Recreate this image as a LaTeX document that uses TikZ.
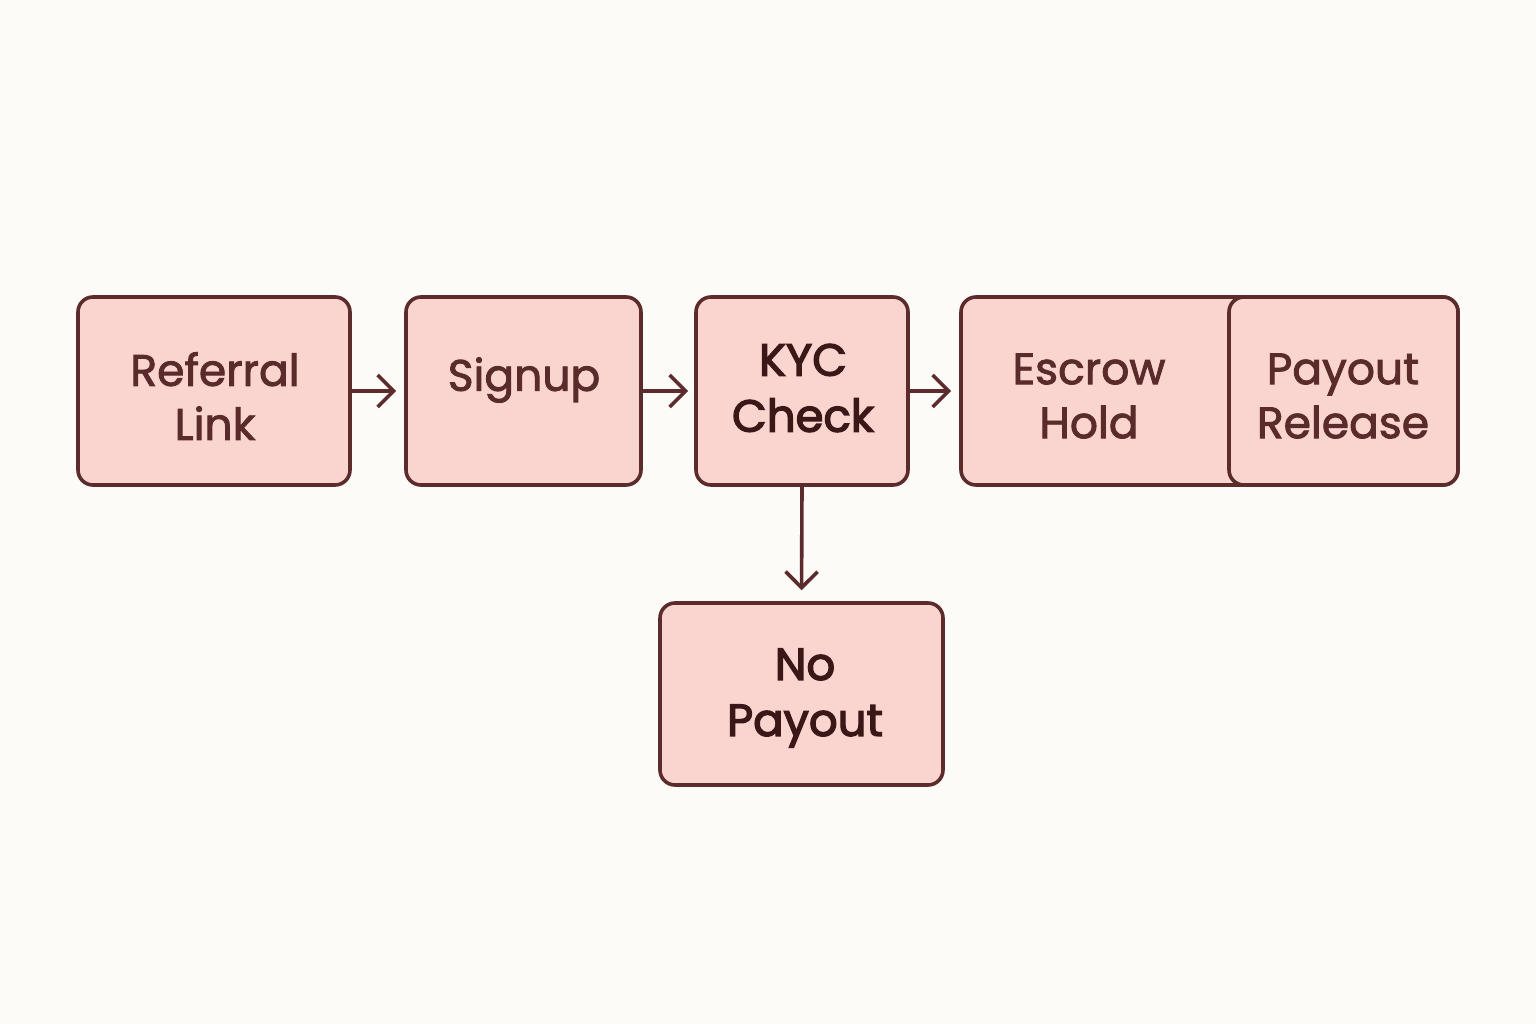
\documentclass[tikz,border=0pt]{standalone}
\usepackage{fontspec}
\setmainfont{Poppins}
\newfontfamily\boxfont[FakeBold=2]{Poppins}
\newfontfamily\darkfont[FakeBold=3]{Poppins}
\usetikzlibrary{arrows.meta}
\definecolor{bgc}{HTML}{FDFBF8}
\definecolor{fillc}{HTML}{FAD4CF}
\definecolor{linec}{HTML}{5C2C2C}
\definecolor{txtc}{HTML}{5A2B2B}
\definecolor{darkc}{HTML}{3A1818}
\tikzset{
  stagebox/.style={draw=linec, fill=fillc, line width=3.6pt, rounded corners=15pt, inner sep=0pt},
  lbl/.style={text=txtc, font=\boxfont\fontsize{44}{54}\selectfont, align=center, inner sep=0pt},
  dlbl/.style={text=darkc, font=\darkfont\fontsize{45}{56}\selectfont, align=center, inner sep=0pt},
  flow/.style={draw=linec, line width=3.6pt, -{Straight Barb[length=16pt, width=32pt, line width=3.6pt]}}
}
\begin{document}
\begin{tikzpicture}[x=1pt, y=-1pt]
\useasboundingbox[fill=bgc] (0,0) rectangle (1536,1024);
% boxes
\node[stagebox, minimum width=272pt, minimum height=188pt] (r) at (214,391) {};
\node[stagebox, minimum width=235pt, minimum height=188pt] (s) at (523.5,391) {};
\node[stagebox, minimum width=212pt, minimum height=188pt] (k) at (802,391) {};
\node[stagebox, minimum width=497pt, minimum height=188pt] (e) at (1209.5,391) {};
\node[stagebox, minimum width=229pt, minimum height=188pt] (p) at (1343.5,391) {};
\node[stagebox, minimum width=283pt, minimum height=182pt] (n) at (801.5,694) {};
% labels
\node[lbl] (tr) at (215,396) {Referral\\Link};
\node[lbl] (ts) at (524,380) {Signup};
\node[dlbl] (tk) at (803,388) {KYC\\Check};
\node[lbl] (te) at (1089,396) {Escrow\\Hold};
\node[lbl] (tp) at (1343,396) {Payout\\Release};
\node[dlbl] (tn) at (805,698) {No\\Payout};
% connectors
\draw[flow, shorten >=8pt] (r.east) -- (s.west);
\draw[flow, shorten >=6pt] (s.east) -- (k.west);
\draw[flow, shorten >=8pt] (k.east) -- (e.west);
\draw[flow, shorten >=11pt] (k.south) -- (n.north);
\end{tikzpicture}
\end{document}
